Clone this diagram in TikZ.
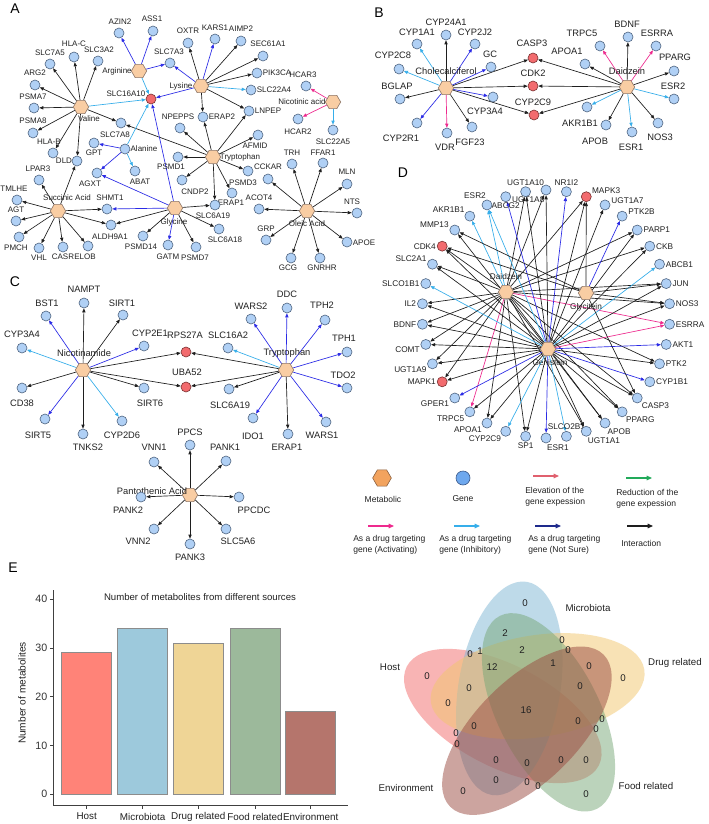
\documentclass[tikz,border=0pt]{standalone}
\usepackage{fontspec}
\setmainfont{Liberation Sans}
\usetikzlibrary{shapes.geometric,arrows.meta}
\pgfdeclarelayer{bg}
\pgfsetlayers{bg,main}
\definecolor{metF}{HTML}{F9CDA3}
\definecolor{metD}{HTML}{8C7465}
\definecolor{genF}{HTML}{B0D0F5}
\definecolor{genD}{HTML}{4F6480}
\definecolor{redF}{HTML}{F26B6E}
\definecolor{redD}{HTML}{7A3030}
\definecolor{cBk}{HTML}{1E1E1E}
\definecolor{cBl}{HTML}{2B2BE6}
\definecolor{cLb}{HTML}{36AEEA}
\definecolor{cPk}{HTML}{EE2A8E}
\definecolor{cNv}{HTML}{1E2A8C}
\definecolor{cRd}{HTML}{E0606E}
\definecolor{cGr}{HTML}{22AA5A}
\definecolor{legMet}{HTML}{F2A35E}
\definecolor{legMetD}{HTML}{8A6040}
\definecolor{legGen}{HTML}{6EA8EE}
\definecolor{legGenD}{HTML}{3C5A8A}
\definecolor{txt}{HTML}{222222}
\definecolor{bHost}{HTML}{FF8378}
\definecolor{bMic}{HTML}{9DC9DC}
\definecolor{bDrug}{HTML}{EFD596}
\definecolor{bFood}{HTML}{9CB99B}
\definecolor{bEnv}{HTML}{B5756C}
\definecolor{vHost}{HTML}{F36B6B}
\definecolor{vMic}{HTML}{7FB6D4}
\definecolor{vDrug}{HTML}{F2C66D}
\definecolor{vFood}{HTML}{78A878}
\definecolor{vEnv}{HTML}{9A4A40}
\tikzset{
  gene/.style={circle,draw=genD,fill=genF,line width=0.45pt,minimum size=7.5pt,inner sep=0pt},
  redg/.style={gene,fill=redF,draw=redD},
  met/.style={regular polygon,regular polygon sides=6,draw=metD,fill=metF,line width=0.45pt,minimum size=11.5pt,inner sep=0pt},
  lbl/.style={font=\fontsize{6}{7}\selectfont,inner sep=0.3pt,text=txt},
  lblD/.style={font=\fontsize{6.2}{7}\selectfont,inner sep=0.3pt,text=txt},
  lgl/.style={font=\fontsize{6.4}{8}\selectfont,inner sep=0pt,text=txt},
  plab/.style={font=\fontsize{10.5}{12}\selectfont,inner sep=0pt,text=black},
  edge/.style={line width=0.5pt,-{Triangle[length=3pt,width=2.4pt]}},
  bk/.style={edge,draw=cBk},
  bl/.style={edge,draw=cBl},
  lb/.style={edge,draw=cLb},
  pk/.style={edge,draw=cPk},
  legar/.style={line width=0.9pt,-{Triangle[length=4pt,width=3.4pt]}},
  axisl/.style={draw=black!75,line width=0.6pt},
  bar/.style={draw=black!45,line width=0.6pt},
  chart/.style={font=\fontsize{7.4}{9}\selectfont,inner sep=0pt,text=txt},
  tickl/.style={font=\fontsize{8}{9}\selectfont,inner sep=0pt,text=black!80},
  vset/.style={fill opacity=0.5},
  vnum/.style={font=\fontsize{7.3}{8}\selectfont,inner sep=0pt,text=txt},
}
\newcommand\mkGene[6]{\node[gene] (#1) at (#2,#3) {};\node[lbl] (#1t) at (#4,#5) {#6};}
\newcommand\mkRed[6]{\node[redg] (#1) at (#2,#3) {};\node[lbl] (#1t) at (#4,#5) {#6};}
\newcommand\mkMet[6]{\node[met] (#1) at (#2,#3) {};\node[lbl] (#1t) at (#4,#5) {#6};}
\begin{document}
\begin{tikzpicture}[x=0.75pt,y=-0.75pt]
\begin{pgfonlayer}{bg}
\path[use as bounding box,fill=white] (0,0) rectangle (708,824);
\end{pgfonlayer}

% ================= Panel A =================
\node[plab] (labA) at (15,9) {A};
\mkMet{Arg}{139}{71}{117}{71}{Arginine}
\mkMet{Val}{81}{107}{89}{119}{Valine}
\mkMet{Lys}{201}{86}{181}{86}{Lysine}
\mkMet{Nic}{333}{102}{302}{102}{Nicotinic acid}
\mkMet{TrpA}{213}{157}{240}{157}{Tryptophan}
\mkMet{Gly}{175}{208}{174}{222}{Glycine}
\mkMet{Suc}{58}{211}{67}{198}{Succinic Acid}
\mkMet{Ole}{307}{211}{307}{224}{Oleic Acid}
\mkGene{Ala}{125}{149}{144}{149}{Alanine}
\mkRed{SLC16A10}{151}{99}{126}{94}{SLC16A10}
\mkGene{AZIN2}{119}{33}{120}{22}{AZIN2}
\mkGene{ASS1}{153}{31}{152}{19}{ASS1}
\mkGene{SLC7A3}{170}{63}{169}{52}{SLC7A3}
\mkGene{SLC7A5}{50}{64}{50}{53}{SLC7A5}
\mkGene{HLAC}{74}{57}{74}{44}{HLA-C}
\mkGene{SLC3A2}{98}{61}{99}{50}{SLC3A2}
\mkGene{ARG2}{35}{85}{35}{73}{ARG2}
\mkGene{PSMA7}{34}{108}{33}{97}{PSMA7}
\mkGene{PSMA8}{33}{133}{33}{121}{PSMA8}
\mkGene{HLAB}{53}{153}{49}{142}{HLA-B}
\mkGene{DLD}{77}{161}{64}{161}{DLD}
\mkGene{SLC7A8}{121}{123}{115}{135}{SLC7A8}
\mkGene{GPT}{94}{143}{94}{153}{GPT}
\mkGene{AGXT}{97}{173}{90}{184}{AGXT}
\mkGene{ABAT}{135}{171}{140}{182}{ABAT}
\mkGene{OXTR}{188}{43}{188}{31}{OXTR}
\mkGene{KARS1}{215}{39}{215}{28}{KARS1}
\mkGene{AIMP2}{241}{41}{241}{29}{AIMP2}
\mkGene{SEC61A1}{263}{56}{268}{44}{SEC61A1}
\mkGene{PIK3CA}{257}{73}{277}{73}{PIK3CA}
\mkGene{SLC22A4}{251}{90}{274}{90}{SLC22A4}
\mkGene{ERAP2}{203}{117}{222}{117}{ERAP2}
\mkGene{NPEPPS}{180}{128}{178}{117}{NPEPPS}
\mkGene{LNPEP}{249}{111}{268}{111}{LNPEP}
\mkGene{AFMID}{258}{135}{255}{146}{AFMID}
\mkGene{HCAR3}{306}{86}{303}{75}{HCAR3}
\mkGene{HCAR2}{298}{119}{298}{132}{HCAR2}
\mkGene{SLC22A5}{333}{130}{333}{142}{SLC22A5}
\mkGene{PSMD1}{178}{157}{171}{167}{PSMD1}
\mkGene{CNDP2}{182}{180}{195}{192}{CNDP2}
\mkGene{PSMD3}{248}{171}{243}{183}{PSMD3}
\mkGene{ERAP1a}{232}{193}{231}{203}{ERAP1}
\mkGene{SLC6A19a}{215}{205}{213}{216}{SLC6A19}
\mkGene{SLC6A18}{219}{229}{225}{240}{SLC6A18}
\mkGene{PSMD7}{196}{247}{195}{258}{PSMD7}
\mkGene{PSMD14}{143}{236}{141}{247}{PSMD14}
\mkGene{GATM}{168}{245}{168}{257}{GATM}
\mkGene{SHMT1}{107}{209}{110}{198}{SHMT1}
\mkGene{ALDH9A1}{111}{225}{110}{237}{ALDH9A1}
\mkGene{LPAR3}{39}{180}{38}{169}{LPAR3}
\mkGene{TMLHE}{17}{200}{14}{189}{TMLHE}
\mkGene{AGT}{16}{221}{16}{210}{AGT}
\mkGene{PMCH}{19}{237}{16}{248}{PMCH}
\mkGene{VHL}{39}{248}{39}{258}{VHL}
\mkGene{CASR}{63}{247}{63}{257}{CASR}
\mkGene{ELOB}{88}{246}{85}{257}{ELOB}
\mkGene{TRH}{292}{164}{292}{153}{TRH}
\mkGene{FFAR1}{323}{163}{323}{153}{FFAR1}
\mkGene{CCKAR}{268}{179}{268}{167}{CCKAR}
\mkGene{ACOT4}{259}{209}{259}{198}{ACOT4}
\mkGene{GRP}{266}{240}{266}{229}{GRP}
\mkGene{GCG}{291}{258}{288}{268}{GCG}
\mkGene{GNRHR}{320}{258}{322}{268}{GNRHR}
\mkGene{MLN}{347}{184}{347}{172}{MLN}
\mkGene{NTS}{357}{213}{352}{202}{NTS}
\mkGene{APOE}{347}{242}{364}{243}{APOE}
\begin{pgfonlayer}{bg}
\foreach \tg in {AZIN2,ASS1,SLC7A3} \draw[bl] (Arg) -- (\tg);
\draw[lb] (Arg) -- (SLC16A10);
\foreach \tg in {SLC7A5,HLAC,SLC3A2,ARG2,PSMA7,PSMA8,HLAB,DLD,SLC7A8} \draw[bk] (Val) -- (\tg);
\draw[lb] (Val) -- (SLC16A10);
\foreach \tg in {OXTR,AIMP2,SEC61A1,PIK3CA,ERAP2,LNPEP} \draw[bk] (Lys) -- (\tg);
\foreach \tg in {KARS1,SLC7A3,SLC16A10} \draw[bl] (Lys) -- (\tg);
\draw[lb] (Lys) -- (SLC22A4);
\foreach \tg in {HCAR3,HCAR2} \draw[pk] (Nic) -- (\tg);
\draw[lb] (Nic) -- (SLC22A5);
\foreach \tg in {NPEPPS,ERAP2,LNPEP,AFMID,PSMD1,CNDP2,PSMD3,ERAP1a,SLC6A19a,SLC7A8} \draw[bk] (TrpA) -- (\tg);
\foreach \tg in {SLC16A10,AGXT,SHMT1,GATM} \draw[bl] (Gly) -- (\tg);
\foreach \tg in {ALDH9A1,PSMD14,PSMD7,SLC6A18,SLC6A19a} \draw[bk] (Gly) -- (\tg);
\foreach \tg in {GPT,AGXT} \draw[bl] (Ala) -- (\tg);
\foreach \tg in {ABAT,SLC16A10} \draw[lb] (Ala) -- (\tg);
\foreach \tg in {LPAR3,TMLHE,AGT,PMCH,VHL,CASR,ELOB,ALDH9A1,SHMT1,DLD} \draw[bk] (Suc) -- (\tg);
\foreach \tg in {TRH,FFAR1,CCKAR,ACOT4,GRP,GCG,GNRHR,MLN,NTS,APOE} \draw[bk] (Ole) -- (\tg);
\end{pgfonlayer}

% ================= Panel B =================
\node[plab] (labB) at (379,13) {B};
\begin{scope}[lbl/.style={font=\fontsize{7}{8}\selectfont,inner sep=0.3pt,text=txt}]
\mkMet{Chol}{446}{88}{446}{71}{Cholecalciferol}
\mkMet{DaiB}{627}{87}{627}{71}{Daidzein}
\mkGene{CYP24A1}{446}{35}{446}{22}{CYP24A1}
\mkGene{CYP1A1}{417}{44}{417}{32}{CYP1A1}
\mkGene{CYP2J2}{475}{44}{475}{32}{CYP2J2}
\mkGene{CYP2C8}{399}{69}{393}{55}{CYP2C8}
\mkGene{GC}{491}{67}{490}{54}{GC}
\mkGene{BGLAP}{400}{99}{397}{86}{BGLAP}
\mkGene{CYP3A4b}{493}{97}{485}{111}{CYP3A4}
\mkGene{FGF23}{472}{127}{470}{142}{FGF23}
\mkGene{CYP2R1}{417}{123}{401}{138}{CYP2R1}
\mkGene{VDR}{447}{133}{445}{147}{VDR}
\mkRed{CASP3b}{533}{58}{532}{43}{CASP3}
\mkRed{CDK2}{533}{86}{533}{73}{CDK2}
\mkRed{CYP2C9b}{534}{115}{533}{102}{CYP2C9}
\mkGene{TRPC5b}{600}{46}{582}{33}{TRPC5}
\mkGene{BDNFb}{628}{37}{627}{24}{BDNF}
\mkGene{ESRRAb}{656}{46}{657}{33}{ESRRA}
\mkGene{APOA1b}{585}{64}{567}{51}{APOA1}
\mkGene{PPARGb}{674}{71}{675}{57}{PPARG}
\mkGene{ESR2b}{674}{99}{673}{86}{ESR2}
\mkGene{AKR1B1b}{587}{107}{580}{123}{AKR1B1}
\mkGene{APOBb}{606}{125}{595}{141}{APOB}
\mkGene{ESR1b}{632}{132}{631}{147}{ESR1}
\mkGene{NOS3b}{658}{123}{660}{137}{NOS3}
\end{scope}
\begin{pgfonlayer}{bg}
\foreach \tg in {CYP24A1,BGLAP,FGF23,CASP3b,CDK2,CYP2C9b} \draw[bk] (Chol) -- (\tg);
\foreach \tg in {CYP1A1,CYP2C8} \draw[lb] (Chol) -- (\tg);
\foreach \tg in {CYP2J2,GC,CYP3A4b,CYP2R1} \draw[bl] (Chol) -- (\tg);
\draw[pk] (Chol) -- (VDR);
\foreach \tg in {BDNFb,APOA1b,PPARGb,APOBb,NOS3b,CASP3b,CDK2,CYP2C9b} \draw[bk] (DaiB) -- (\tg);
\foreach \tg in {TRPC5b,ESRRAb} \draw[pk] (DaiB) -- (\tg);
\foreach \tg in {ESR2b,AKR1B1b,ESR1b} \draw[lb] (DaiB) -- (\tg);
\end{pgfonlayer}

% ================= Panel C =================
\node[plab] (labC) at (15,282) {C};
\begin{scope}[lbl/.style={font=\fontsize{7}{8}\selectfont,inner sep=0.3pt,text=txt}]
\mkMet{Nam}{83}{370}{84}{353}{Nicotinamide}
\mkMet{TrpC}{286}{370}{287}{353}{Tryptophan}
\mkGene{NAMPT}{84}{303}{84}{289}{NAMPT}
\mkGene{BST1}{46}{316}{47}{303}{BST1}
\mkGene{SIRT1}{123}{315}{122}{303}{SIRT1}
\mkGene{CYP3A4c}{22}{348}{22}{334}{CYP3A4}
\mkGene{CYP2E1}{144}{346}{150}{333}{CYP2E1}
\mkGene{CD38}{22}{388}{22}{403}{CD38}
\mkGene{SIRT6}{144}{388}{150}{403}{SIRT6}
\mkGene{SIRT5}{45}{419}{38}{435}{SIRT5}
\mkGene{TNKS2}{83}{434}{88}{447}{TNKS2}
\mkGene{CYP2D6}{122}{421}{122}{435}{CYP2D6}
\mkRed{RPS27A}{186}{352}{185}{335}{RPS27A}
\mkRed{UBA52}{186}{387}{187}{372}{UBA52}
\mkGene{SLC16A2}{228}{348}{228}{335}{SLC16A2}
\mkGene{WARS2}{251}{319}{251}{306}{WARS2}
\mkGene{DDC}{287}{308}{287}{294}{DDC}
\mkGene{TPH2}{325}{320}{322}{305}{TPH2}
\mkGene{TPH1}{347}{352}{344}{338}{TPH1}
\mkGene{TDO2}{347}{388}{343}{375}{TDO2}
\mkGene{SLC6A19c}{229}{389}{230}{405}{SLC6A19}
\mkGene{IDO1}{253}{418}{253}{436}{IDO1}
\mkGene{ERAP1c}{288}{434}{287}{447}{ERAP1}
\mkGene{WARS1}{326}{422}{322}{435}{WARS1}
\mkMet{Pan}{190}{495}{152}{491}{Pantothenic Acid}
\mkGene{PPCS}{190}{445}{190}{432}{PPCS}
\mkGene{VNN1}{154}{462}{154}{447}{VNN1}
\mkGene{PANK1}{226}{461}{225}{447}{PANK1}
\mkGene{PANK2}{141}{497}{128}{510}{PANK2}
\mkGene{PPCDC}{239}{497}{254}{510}{PPCDC}
\mkGene{VNN2}{154}{529}{138}{541}{VNN2}
\mkGene{SLC5A6}{226}{529}{238}{541}{SLC5A6}
\mkGene{PANK3}{190}{544}{190}{557}{PANK3}
\end{scope}
\begin{pgfonlayer}{bg}
\foreach \tg in {NAMPT,SIRT1,RPS27A,UBA52,SIRT6,CD38,TNKS2} \draw[bk] (Nam) -- (\tg);
\foreach \tg in {BST1,CYP2E1,SIRT5} \draw[bl] (Nam) -- (\tg);
\foreach \tg in {CYP3A4c,CYP2D6} \draw[lb] (Nam) -- (\tg);
\foreach \tg in {RPS27A,UBA52,SLC6A19c,ERAP1c} \draw[bk] (TrpC) -- (\tg);
\foreach \tg in {WARS2,DDC,TPH2,TPH1,TDO2,WARS1,IDO1} \draw[bl] (TrpC) -- (\tg);
\draw[lb] (TrpC) -- (SLC16A2);
\foreach \tg in {PPCS,VNN1,PANK1,PANK2,PPCDC,VNN2,SLC5A6,PANK3} \draw[bk] (Pan) -- (\tg);
\end{pgfonlayer}

% ================= Panel D =================
\node[plab] (labD) at (403,173) {D};
\begin{scope}[lbl/.style={font=\fontsize{6.2}{7}\selectfont,inner sep=0.3pt,text=txt}]
\mkMet{Dd}{506}{292}{506}{277}{Daidzein}
\mkMet{Gc}{586}{293}{586}{307}{Glycitein}
\mkMet{Gn}{548}{349}{550}{363}{Genistein}
\end{scope}
\foreach \kk/\nm/\la/\ty in {0/UGT1A8/260/gene,1/UGT1A10/90/gene,2/ABCG2/270/gene,3/ESR2/95/gene,4/AKR1B1/145/gene,5/MMP13/165/gene,6/CDK4/180/redg,7/SLC2A1/160/gene,8/SLCO1B1/180/gene,9/IL2/180/gene,10/BDNF/180/gene,11/COMT/195/gene,12/UGT1A9/200/gene,13/MAPK1/180/redg,14/GPER1/205/gene,15/TRPC5/210/gene,16/APOA1/215/gene,17/CYP2C9/225/gene,18/SP1/270/gene,19/ESR1/275/gene,20/SLCO2B1/90/gene,21/UGT1A1/280/gene,22/APOB/290/gene,23/PPARG/305/gene,24/CASP3/315/gene,25/CYP1B1/0/gene,26/PTK2/0/gene,27/AKT1/0/gene,28/ESRRA/0/gene,29/NOS3/0/gene,30/JUN/0/gene,31/ABCB1/0/gene,32/CKB/0/gene,33/PARP1/0/gene,34/PTK2B/10/gene,35/UGT1A7/5/gene,36/MAPK3/25/redg,37/NR1I2/90/gene} {
  \pgfmathsetmacro\ang{90+\kk*360/38}
  \node[\ty,label={[lblD,name=lab\nm,label distance=0.3pt]\la:\nm}] (d\nm) at ({546+124*cos(\ang)},{314-124*sin(\ang)}) {};
}
\begin{pgfonlayer}{bg}
\foreach \tg in {UGT1A10,UGT1A8,MAPK3,PARP1,CKB,JUN,NOS3,CDK4,SLC2A1,IL2,BDNF,COMT,UGT1A9,MAPK1,APOA1,SP1,UGT1A1,APOB,PPARG,CASP3,PTK2} \draw[bk] (Dd) -- (d\tg);
\foreach \tg in {ESRRA,TRPC5} \draw[pk] (Dd) -- (d\tg);
\foreach \tg in {ESR2,AKR1B1} \draw[lb] (Dd) -- (d\tg);
\foreach \tg in {UGT1A10,UGT1A8,MAPK3,UGT1A7,PARP1,CKB,JUN,NOS3,CDK4,MMP13,SLC2A1,IL2,BDNF,COMT,UGT1A9,MAPK1,TRPC5,APOA1,SP1,UGT1A1,APOB,PPARG,CASP3,PTK2} \draw[bk] (Gn) -- (d\tg);
\draw[pk] (Gn) -- (dESRRA);
\foreach \tg in {ABCG2,NR1I2,AKT1,CYP1B1,GPER1,ESR1} \draw[bl] (Gn) -- (d\tg);
\foreach \tg in {SLCO1B1,CYP2C9,ABCB1,SLCO2B1,ESR2} \draw[lb] (Gn) -- (d\tg);
\foreach \tg in {MAPK3,CDK4,MMP13,JUN,NOS3,CASP3} \draw[bk] (Gc) -- (d\tg);
\draw[bl] (Gc) -- (dPTK2B);
\end{pgfonlayer}

% ================= Legend =================
\node[met,minimum size=14pt,fill=legMet,draw=legMetD] (lgMet) at (382,478) {};
\node[lgl] (lgMetT) at (383,499) {Metabolic};
\node[gene,minimum size=10.5pt,fill=legGen,draw=legGenD] (lgGen) at (463,478) {};
\node[lgl] (lgGenT) at (463,499) {Gene};
\coordinate (lgR1) at (533,476); \coordinate (lgR2) at (559,476);
\draw[legar,draw=cRd] (lgR1) -- (lgR2);
\node[lgl,align=left,anchor=north west] (lgRT) at (525,487.5) {Elevation of the\\gene expession};
\coordinate (lgG1) at (626,478); \coordinate (lgG2) at (652,478);
\draw[legar,draw=cGr] (lgG1) -- (lgG2);
\node[lgl,align=left,anchor=north west] (lgGT) at (616,489) {Reduction of the\\gene expession};
\coordinate (lgP1) at (368,526); \coordinate (lgP2) at (394,526);
\draw[legar,draw=cPk] (lgP1) -- (lgP2);
\node[lgl,align=left,anchor=north west] (lgPT) at (353,535.5) {As a drug targeting\\gene (Activating)};
\coordinate (lgL1) at (454,526); \coordinate (lgL2) at (480,526);
\draw[legar,draw=cLb] (lgL1) -- (lgL2);
\node[lgl,align=left,anchor=north west] (lgLT) at (439,535.5) {As a drug targeting\\gene (Inhibitory)};
\coordinate (lgN1) at (535,526); \coordinate (lgN2) at (561,526);
\draw[legar,draw=cNv] (lgN1) -- (lgN2);
\node[lgl,align=left,anchor=north west] (lgNT) at (528,535.5) {As a drug targeting\\gene (Not Sure)};
\coordinate (lgK1) at (627,526); \coordinate (lgK2) at (653,526);
\draw[legar,draw=cBk] (lgK1) -- (lgK2);
\node[lgl,anchor=west] (lgKT) at (621,543) {Interaction};

% ================= Panel E: bar chart =================
\node[plab] (labE) at (13,568) {E};
\draw[axisl] (53.3,590) -- (53.3,805) -- (348,805);
\foreach \yv in {0,10,20,30,40} {
  \draw[axisl] (50,{794.3-4.88*\yv}) -- (53.3,{794.3-4.88*\yv});
  \node[tickl,anchor=east] (yt\yv) at (47.5,{794.3-4.88*\yv}) {\yv};
}
\foreach \bx/\bv/\bc/\bn [count=\bi] in {61.7/29/bHost/Host,117.7/34/bMic/Microbiota,173.3/31/bDrug/Drug related,230/34/bFood/Food related,285.7/17/bEnv/Environment} {
  \draw[bar,fill=\bc] (\bx,794.3) rectangle ({\bx+50},{794.3-4.88*\bv});
  \draw[axisl] ({\bx+25},805) -- ({\bx+25},808.5);
  \node[chart] (xl\bi) at ({\bx+25},816.5) {\bn};
}
\node[chart,font=\fontsize{7.2}{9}\selectfont] (Etitle) at (200,597) {Number of metabolites from different sources};
\node[chart,rotate=90,font=\fontsize{7.6}{9}\selectfont] (Eylab) at (22,693) {Number of metabolites};

% ================= Panel E: Venn =================
\fill[vset,fill=vHost,shift={(502.8,716.0)},rotate=62.7] (0,0) ellipse [x radius=38.25pt,y radius=81pt];
\fill[vset,fill=vMic,shift={(509.3,688.4)},rotate=-9.3] (0,0) ellipse [x radius=38.25pt,y radius=81pt];
\fill[vset,fill=vDrug,shift={(537.6,686.1)},rotate=-81.3] (0,0) ellipse [x radius=38.25pt,y radius=81pt];
\fill[vset,fill=vFood,shift={(548.5,712.3)},rotate=-153.3] (0,0) ellipse [x radius=38.25pt,y radius=81pt];
\fill[vset,fill=vEnv,shift={(526.9,730.7)},rotate=134.7] (0,0) ellipse [x radius=38.25pt,y radius=81pt];
\node[vnum] (vlMic) at (588,608) {Microbiota};
\node[vnum] (vlDrug) at (675,663) {Drug related};
\node[vnum] (vlHost) at (390,667) {Host};
\node[vnum] (vlEnv) at (406,788) {Environment};
\node[vnum] (vlFood) at (646,786) {Food related};
\foreach \vx/\vy/\vt [count=\vi] in {525/603/0,505/633/2,562/640/0,470/654/0,480/651/1,522/650/2,568/650/0,492/667/12,553/663/1,589/666/0,427/676/0,623/678/0,469/688/0,580/686/0,448/703/0,526/710/16,474/726/0,578/721/0,602/719/0,596/729/0,456/733/0,457/744/0,496/760/0,527/763/0,561/760/0,586/760/0,496/780/0,527/782/0,538/786/0,463/791/0,586/794/0} {
  \node[vnum] (vn\vi) at (\vx,\vy) {\vt};
}
\end{tikzpicture}
\end{document}
